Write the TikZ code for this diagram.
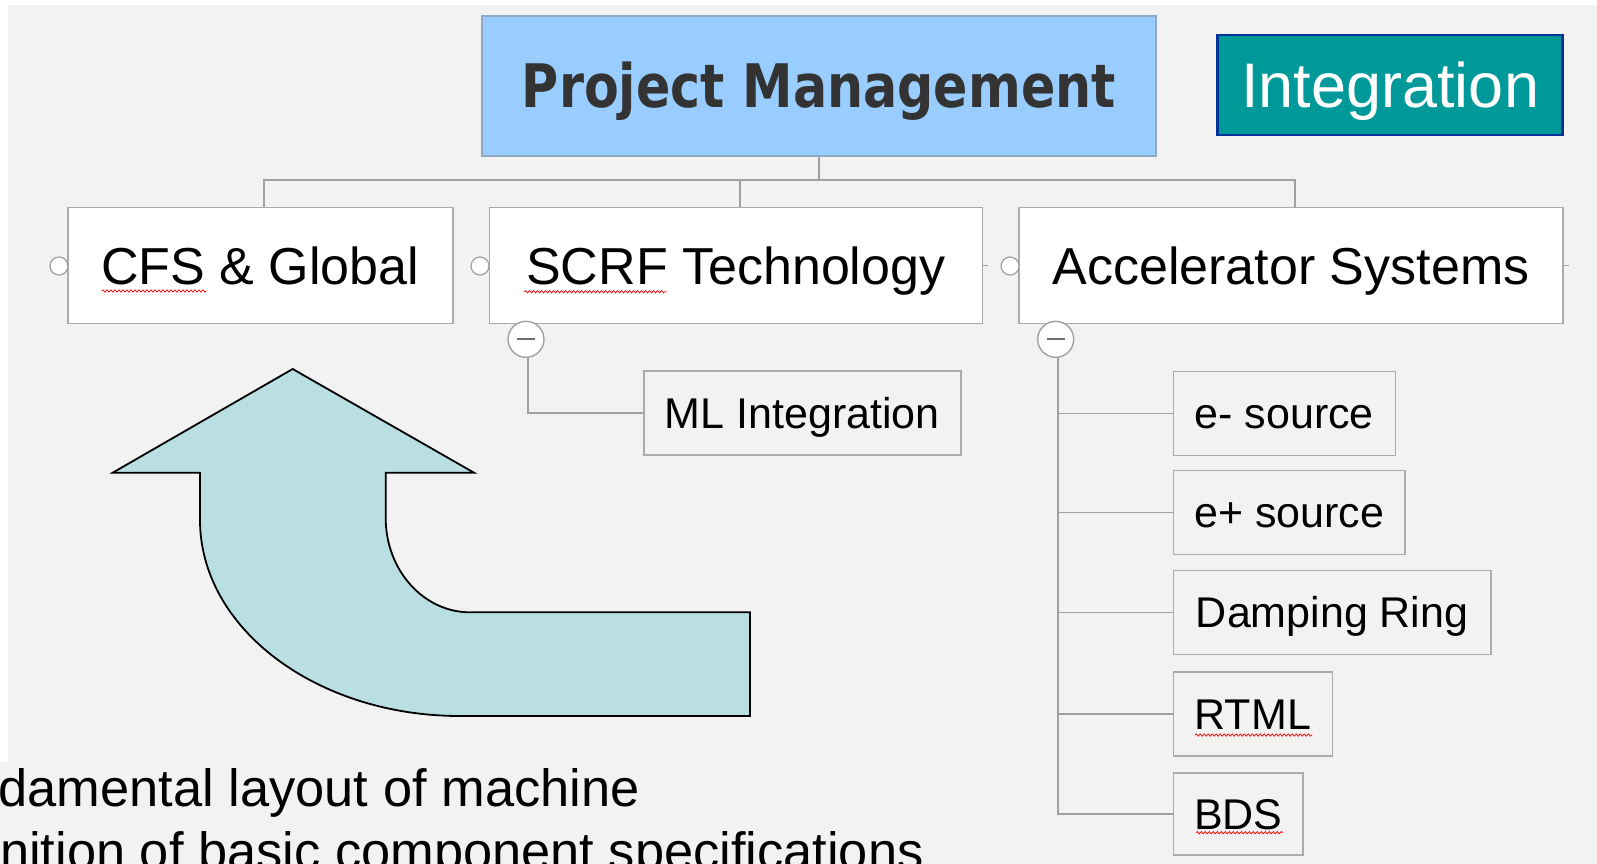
\documentclass[tikz,border=0pt]{standalone}
\usepackage{graphicx}
\usepackage{fontspec}
\setmainfont{Liberation Sans}
\newfontfamily\pmfont{DejaVu Sans}
\usetikzlibrary{decorations.pathmorphing}
\definecolor{bg}{HTML}{F2F2F2}
\definecolor{linegray}{HTML}{A0A0A0}
\definecolor{boxgray}{HTML}{ABABAB}
\definecolor{pmblue}{HTML}{99CCFF}
\definecolor{pmborder}{HTML}{8FA8C8}
\definecolor{tealfill}{HTML}{009999}
\definecolor{navyb}{HTML}{003399}
\definecolor{arrowfill}{HTML}{B9DFE3}
\definecolor{pmtext}{HTML}{333333}
\definecolor{minusgray}{HTML}{707070}
\begin{document}
\begin{tikzpicture}[x=1pt,y=-1pt,
  mainbox/.style={draw=boxgray, line width=1.6pt, fill=white, minimum height=116pt, inner sep=0pt,
    font=\fontsize{52}{60}\selectfont, text height=37.2pt, text depth=0pt},
  subbox/.style={draw=boxgray, line width=1.6pt, fill=bg, minimum height=84pt, inner sep=0pt,
    font=\fontsize{43}{50}\selectfont, text height=30.8pt, text depth=0pt},
  conn/.style={draw=linegray, line width=1.6pt},
  knob/.style={circle, draw=linegray, fill=white, line width=1.2pt, minimum size=18pt, inner sep=0pt},
  tog/.style={circle, draw=linegray, fill=white, line width=1.4pt, minimum size=36pt, inner sep=0pt},
  minus/.style={draw=minusgray, line width=1.8pt},
  squig/.style={draw=red, line width=0.7pt, decorate, decoration={snake, amplitude=1.2pt, segment length=4pt}},
  bodytext/.style={anchor=base west, inner sep=0pt, font=\fontsize{52.4}{60}\selectfont}
]
\clip (0,0) rectangle (1597,864);
% background
\fill[white] (0,0) rectangle (1597,864);
\fill[bg] (8,5) rectangle (1597,864);
\fill[bg] (0,762) rectangle (8,864);

% top nodes
\node[draw=pmborder, line width=1.6pt, fill=pmblue, minimum width=673.7pt, minimum height=140pt, inner sep=0pt,
  text=pmtext, font=\pmfont\bfseries\fontsize{60}{70}\selectfont, text height=43.7pt, text depth=0pt]
  (pm) at (818.85,86) {\resizebox{594pt}{\height}{Project Management}};
\node[draw=navyb, line width=2.5pt, fill=tealfill, minimum width=345pt, minimum height=100pt, inner sep=0pt,
  text=white, font=\fontsize{63}{70}\selectfont, text height=45.1pt, text depth=0pt]
  (integ) at (1390.2,85) {Integration};

% second level
\node[mainbox, minimum width=385pt] (cfs) at (260.2,265.6) {CFS \& Global};
\node[mainbox, minimum width=493pt] (scrf) at (735.8,265.6) {SCRF Technology};
\node[mainbox, minimum width=544pt] (acc) at (1291,265.6) {Accelerator Systems};

% tree from Project Management
\coordinate (busL) at (264,180);
\coordinate (busM) at (740,180);
\coordinate (busR) at (1295,180);
\draw[conn] (pm.south) -- (pm.south |- busL);
\draw[conn] (cfs.north -| busL) -- (busL) -- (busR) -- (acc.north -| busR);
\draw[conn] (busM) -- (scrf.north -| busM);

% knobs left of boxes
\node[knob] (k1) at (59,266) {};
\node[knob] (k2) at (480,266) {};
\node[knob] (k3) at (1010,266) {};
\draw[conn, line width=1pt] (scrf.east) -- ++(5,0);
\draw[conn, line width=1pt] (acc.east) -- ++(5,0);

% SCRF child
\node[subbox, minimum width=317.3pt] (ml) at (802.35,413) {ML Integration};
\node[tog] (m1) at (526,339.3) {};
\draw[minus] ([xshift=-9pt]m1.center) -- ([xshift=9pt]m1.center);
\draw[conn] ([xshift=2pt]m1.south) |- (ml.west);

% Accelerator children
\node[subbox, minimum width=222pt] (es) at (1284.3,413.5) {e- source};
\node[subbox, minimum width=231.7pt] (ps) at (1289.2,512.3) {e+ source};
\node[subbox, minimum width=317.7pt] (dr) at (1332.2,612.5) {Damping Ring};
\node[subbox, minimum width=159pt] (rtml) at (1252.8,713.7) {RTML};
\node[subbox, minimum width=129.7pt, minimum height=82.3pt] (bds) at (1238.2,813.9) {BDS};
\node[tog] (m2) at (1055.7,339.3) {};
\draw[minus] ([xshift=-9pt]m2.center) -- ([xshift=9pt]m2.center);
\draw[conn] ([xshift=2pt]m2.south) |- (bds.west);
\draw[conn] ([xshift=2pt]m2.south |- es.west) -- (es.west);
\draw[conn] ([xshift=2pt]m2.south |- ps.west) -- (ps.west);
\draw[conn] ([xshift=2pt]m2.south |- dr.west) -- (dr.west);
\draw[conn] ([xshift=2pt]m2.south |- rtml.west) -- (rtml.west);

% spell-check squiggles
\draw[squig] (101.7,291) -- (206.7,291);
\draw[squig] (524.3,291.7) -- (666.7,291.7);
\draw[squig] (1195,735) -- (1312.3,735);
\draw[squig] (1196,832.7) -- (1282.7,832.7);

% bent arrow
\draw[fill=arrowfill, draw=black, line width=1.8pt, line join=miter]
  (292.7,369) -- (474,472.7) -- (385.7,472.7) -- (385.7,518)
  .. controls (385.7,570) and (423.4,612.3) .. (470,612.3)
  -- (750,612.3) -- (750,716) -- (460,716)
  .. controls (316.4,716) and (200,628.3) .. (200,520)
  -- (200,472.7) -- (112.7,472.7) -- cycle;

% bottom text
\node[bodytext] (t1) at (-1.5,806) {damental layout of machine};
\node[bodytext] (t2) at (0,869) {nition of basic component specifications};
\end{tikzpicture}
\end{document}
